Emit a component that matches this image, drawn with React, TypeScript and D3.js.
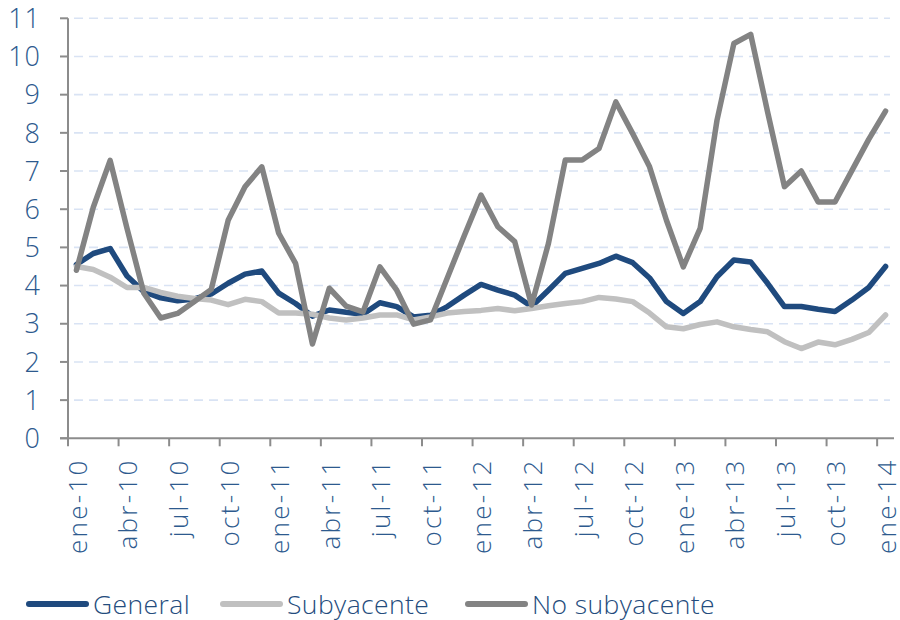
import React, { useEffect, useRef } from "react";
import * as d3 from "d3";

// meses y años del eje
const monthNames = ["ene", "feb", "mar", "abr", "may", "jun", "jul", "ago", "sep", "oct", "nov", "dic"];
const years = ["10", "11", "12", "13", "14"];
const tickMonths = ["ene", "abr", "jul", "oct"];
const yTicks = [0, 1, 2, 3, 4, 5, 6, 7, 8, 9, 10, 11];

const categories: string[] = [];
years.forEach((y, yi) => {
  monthNames.forEach((m) => {
    if (yi < years.length - 1 || m === "ene") categories.push(`${m}-${y}`);
  });
});

const general = [
  4.55, 4.84, 4.97, 4.25, 3.84, 3.68, 3.6, 3.65, 3.78, 4.06,
  4.3, 4.38, 3.8, 3.53, 3.2, 3.36, 3.3, 3.25, 3.55, 3.45,
  3.18, 3.22, 3.45, 3.75, 4.03, 3.88, 3.75, 3.45, 3.88, 4.32,
  4.45, 4.58, 4.77, 4.6, 4.2, 3.58, 3.27, 3.58, 4.23, 4.67,
  4.62, 4.06, 3.45, 3.45, 3.38, 3.32, 3.62, 3.95, 4.5,
];
const subyacente = [
  4.5, 4.42, 4.22, 3.95, 3.95, 3.82, 3.72, 3.66, 3.62, 3.5,
  3.64, 3.58, 3.28, 3.28, 3.25, 3.15, 3.1, 3.15, 3.23, 3.23,
  3.1, 3.18, 3.28, 3.32, 3.35, 3.4, 3.34, 3.4, 3.47, 3.53,
  3.58, 3.69, 3.65, 3.58, 3.28, 2.92, 2.87, 2.98, 3.05, 2.92,
  2.85, 2.79, 2.53, 2.35, 2.52, 2.45, 2.59, 2.77, 3.23,
];
const noSubyacente = [
  4.4, 6.05, 7.28, 5.5, 3.8, 3.15, 3.27, 3.58, 3.9, 5.71,
  6.59, 7.11, 5.37, 4.58, 2.47, 3.93, 3.46, 3.31, 4.49, 3.88,
  2.99, 3.1, 4.2, 5.3, 6.37, 5.54, 5.15, 3.49, 5.1, 7.29,
  7.29, 7.59, 8.81, 7.98, 7.11, 5.71, 4.49, 5.5, 8.33, 10.34,
  10.58, 8.55, 6.59, 7.0, 6.19, 6.19, 7.01, 7.83, 8.57,
];

const seriesNames = ["General", "Subyacente", "No subyacente"];
const seriesValues = [general, subyacente, noSubyacente];
const seriesColors = ["#1f4a7e", "#c0c0c0", "#838383"];
const legendX = [29, 223, 468];

export default function App() {
  const ref = useRef<SVGSVGElement>(null);

  useEffect(() => {
    const svg = d3.select(ref.current);
    svg.selectAll("*").remove();

    const width = 900,
      height = 620;
    const left = 68,
      right = 894,
      top = 18.3,
      bottom = 438.3;
    const font = "'Open Sans', 'DejaVu Sans', sans-serif";
    const textColor = "#2d5a8e";

    const x = d3.scaleBand().domain(categories).range([left, right]).padding(0);
    const y = d3.scaleLinear().domain([0, 11]).range([bottom, top]);
    const cx = (c: string) => (x(c) as number) + x.bandwidth() / 2;

    svg.attr("width", width).attr("height", height);

    // rejilla
    svg
      .append("g")
      .selectAll("line")
      .data(yTicks.filter((t) => t > 0))
      .enter()
      .append("line")
      .attr("x1", left + 6)
      .attr("x2", right - 4)
      .attr("y1", (d) => y(d))
      .attr("y2", (d) => y(d))
      .attr("stroke", "#d9e3f4")
      .attr("stroke-width", 1.6)
      .attr("stroke-dasharray", "9,6");

    // eje Y
    const yAxis = svg.append("g");
    yAxis
      .append("line")
      .attr("x1", left)
      .attr("x2", left)
      .attr("y1", top)
      .attr("y2", bottom)
      .attr("stroke", "#8c8c8c")
      .attr("stroke-width", 2);
    yAxis
      .selectAll(".tk")
      .data(yTicks)
      .enter()
      .append("line")
      .attr("x1", left - 8)
      .attr("x2", left)
      .attr("y1", (d) => y(d))
      .attr("y2", (d) => y(d))
      .attr("stroke", "#8c8c8c")
      .attr("stroke-width", 2);
    yAxis
      .selectAll("text")
      .data(yTicks)
      .enter()
      .append("text")
      .attr("x", 41)
      .attr("y", (d) => y(d))
      .attr("dy", "0.36em")
      .attr("text-anchor", "end")
      .attr("font-family", font)
      .attr("font-weight", 300)
      .attr("font-size", 27)
      .attr("letter-spacing", 1)
      .attr("fill", textColor)
      .text((d) => d);

    // eje X
    const xAxis = svg.append("g");
    xAxis
      .append("line")
      .attr("x1", left - 8)
      .attr("x2", right)
      .attr("y1", bottom)
      .attr("y2", bottom)
      .attr("stroke", "#8c8c8c")
      .attr("stroke-width", 2);
    const tickCats = categories.filter((c) => tickMonths.includes(c.slice(0, 3)));
    xAxis
      .selectAll(".tk")
      .data(tickCats)
      .enter()
      .append("line")
      .attr("x1", (d) => x(d) as number)
      .attr("x2", (d) => x(d) as number)
      .attr("y1", bottom)
      .attr("y2", bottom + 8)
      .attr("stroke", "#8c8c8c")
      .attr("stroke-width", 2);
    xAxis
      .selectAll("text")
      .data(tickCats)
      .enter()
      .append("text")
      .attr("transform", (d) => `translate(${cx(d) + 1},${bottom + 20}) rotate(-90)`)
      .attr("dy", "0.36em")
      .attr("text-anchor", "end")
      .attr("font-family", font)
      .attr("font-weight", 300)
      .attr("font-size", 26)
      .attr("letter-spacing", 2.3)
      .attr("fill", textColor)
      .text((d) => d);

    // series
    const line = d3
      .line<number>()
      .x((_, i) => cx(categories[i]))
      .y((d) => y(d));

    seriesValues.forEach((vals, si) => {
      svg
        .append("path")
        .datum(vals)
        .attr("d", line)
        .attr("fill", "none")
        .attr("stroke", seriesColors[si])
        .attr("stroke-width", 5.5)
        .attr("stroke-linejoin", "round")
        .attr("stroke-linecap", "round");
    });

    // leyenda
    const legend = svg
      .append("g")
      .selectAll("g")
      .data(seriesNames)
      .enter()
      .append("g")
      .attr("transform", (_, i) => `translate(${legendX[i]},604)`);
    legend
      .append("line")
      .attr("x1", 0)
      .attr("x2", 57)
      .attr("stroke", (_, i) => seriesColors[i])
      .attr("stroke-width", 6)
      .attr("stroke-linecap", "round");
    legend
      .append("text")
      .attr("x", 64)
      .attr("dy", "0.36em")
      .attr("font-family", font)
      .attr("font-weight", 300)
      .attr("font-size", 26.5)
      .attr("letter-spacing", 0.4)
      .attr("fill", "#244c7d")
      .text((d) => d);
  }, []);

  return <svg ref={ref} style={{ position: "absolute", left: 0, top: 0 }}></svg>;
}
